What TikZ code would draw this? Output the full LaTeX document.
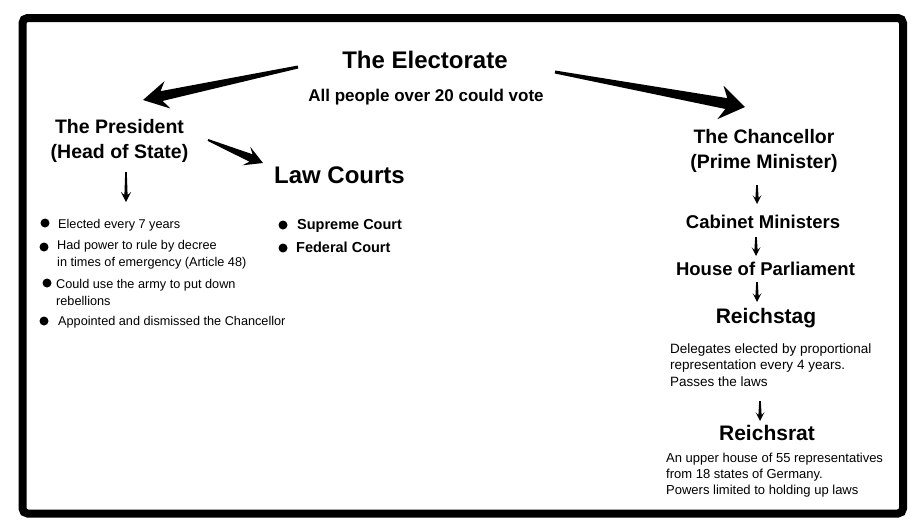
\documentclass[tikz,border=0pt]{standalone}
\usepackage{fontspec}
\setmainfont{Liberation Sans}
\usetikzlibrary{calc}
\usetikzlibrary{positioning}
\usetikzlibrary{shadows}
\newcommand{\sizebig}{\fontsize{24}{28}\selectfont\bfseries}
\newcommand{\sizehead}{\fontsize{19.5}{25}\selectfont\bfseries}
\newcommand{\sizebody}{\fontsize{12.7}{16.8}\selectfont}
\tikzset{
    outerframe/.style={line width=8pt, rounded corners=5pt, fill=white,
        drop shadow={shadow xshift=2pt, shadow yshift=-3pt, opacity=0.35}},
    bigtitle/.style={anchor=base, inner sep=0pt, font=\sizebig},
    subtitle/.style={anchor=base, inner sep=0pt, font=\fontsize{17}{20}\selectfont\bfseries},
    heading/.style={anchor=north, inner sep=0pt, align=center, font=\sizehead},
    rank/.style={anchor=base, inner sep=0pt, font=\fontsize{18.5}{22}\selectfont\bfseries},
    house/.style={anchor=base, inner sep=0pt, font=\fontsize{21}{25}\selectfont\bfseries},
    bodytext/.style={anchor=north west, inner sep=0pt, align=left, font=\sizebody},
    itemtext/.style={anchor=north west, inner sep=0pt, font=\fontsize{14.5}{18}\selectfont\bfseries},
    bullet/.style={fill, circle, minimum size=9pt, inner sep=0pt},
}
% tail, tip, tail half width, neck half width, neck distance, barb distance, barb half width
\newcommand{\taperarrow}[7]{%
    \coordinate (neck) at ($(#2)!#5!(#1)$);
    \coordinate (barb) at ($(#2)!#6!(#1)$);
    \fill ($(#1)!#3!90:(#2)$) -- ($(neck)!#4!90:(#2)$) -- ($(barb)!#7!90:(#2)$) -- (#2)
        -- ($(barb)!#7!-90:(#2)$) -- ($(neck)!#4!-90:(#2)$) -- ($(#1)!#3!-90:(#2)$) -- cycle;
}

\begin{document}
\begin{tikzpicture}[x=1pt, y=-1pt]
    \useasboundingbox (0,0) rectangle (918,531);
    \draw[outerframe] (22.5,18) rectangle (903,513.5);

    % top
    \node[bigtitle] (electorate) at (425,68) {The Electorate};
    \node[subtitle] (voters) at (426,101) {All people over 20 could vote};

    % president and courts
    \node[heading] (president) at (119.5,119) {The President\\(Head of State)};
    \node[bigtitle] (courts) at (339.5,183) {Law Courts};

    \node[bullet] (pres-dot-1) at (45,223) {};
    \node[bullet] (pres-dot-2) at (44,247) {};
    \node[bullet] (pres-dot-3) at (47,283) {};
    \node[bullet] (pres-dot-4) at (44,321) {};
    \node[bodytext] (pres-1) at (58,218.8) {Elected every 7 years};
    \node[bodytext] (pres-2) at (57,239.8) {Had power to rule by decree\\in times of emergency (Article 48)};
    \node[bodytext] (pres-3) at (56,278.8) {Could use the army to put down\\rebellions};
    \node[bodytext] (pres-4) at (58,315.8) {Appointed and dismissed the Chancellor};

    \node[bullet] (court-dot-1) at (283,225) {};
    \node[bullet] (court-dot-2) at (283,248) {};
    \node[itemtext] (court-1) at (297,219.5) {Supreme Court};
    \node[itemtext] (court-2) at (296,241.5) {Federal Court};

    % chancellor side
    \node[heading] (chancellor) at (764,129) {The Chancellor\\(Prime Minister)};
    \node[rank] (cabinet) at (763,228) {Cabinet Ministers};
    \node[rank] (parliament) at (765.5,275) {House of Parliament};
    \node[house] (reichstag) at (766,323) {Reichstag};
    \node[bodytext, font=\fontsize{13.5}{16.5}\selectfont] (delegates) at (670,343.3) {Delegates elected by proportional\\representation every 4 years.\\Passes the laws};
    \node[house] (reichsrat) at (767,440) {Reichsrat};
    \node[bodytext, font=\fontsize{13}{16}\selectfont] (upper) at (666,452.6) {An upper house of 55 representatives\\from 18 states of Germany.\\Powers limited to holding up laws};

    % arrow ends
    \coordinate (elec-left) at (298,67);
    \coordinate (pres-in) at (143,100);
    \coordinate (elec-right) at (555,72);
    \coordinate (chan-in) at (745,107);
    \coordinate (pres-out) at (208,140);
    \coordinate (courts-in) at (263,163);
    \coordinate (pres-bot) at (126,172);
    \coordinate (list-top) at (126,202);
    \coordinate (chan-bot) at (757,185);
    \coordinate (cab-top) at (757,204);
    \coordinate (cab-bot) at (756,237);
    \coordinate (parl-top) at (756,256);
    \coordinate (parl-bot) at (757,282);
    \coordinate (stag-top) at (757,302);
    \coordinate (del-bot) at (760,401);
    \coordinate (rat-top) at (760,421);

    \taperarrow{elec-left}{pres-in}{1.5pt}{5pt}{19pt}{25pt}{14pt}
    \taperarrow{elec-right}{chan-in}{1.5pt}{5.5pt}{19pt}{25pt}{17pt}
    \taperarrow{pres-out}{courts-in}{1pt}{4pt}{13pt}{18pt}{10pt}
    \taperarrow{pres-bot}{list-top}{0.8pt}{1.6pt}{7pt}{10pt}{5pt}
    \taperarrow{chan-bot}{cab-top}{0.8pt}{1.6pt}{6pt}{9pt}{4.5pt}
    \taperarrow{cab-bot}{parl-top}{0.8pt}{1.6pt}{6pt}{9pt}{4.5pt}
    \taperarrow{parl-bot}{stag-top}{0.8pt}{1.6pt}{6pt}{9pt}{4.5pt}
    \taperarrow{del-bot}{rat-top}{0.8pt}{1.6pt}{6pt}{9pt}{4.5pt}
\end{tikzpicture}
\end{document}
